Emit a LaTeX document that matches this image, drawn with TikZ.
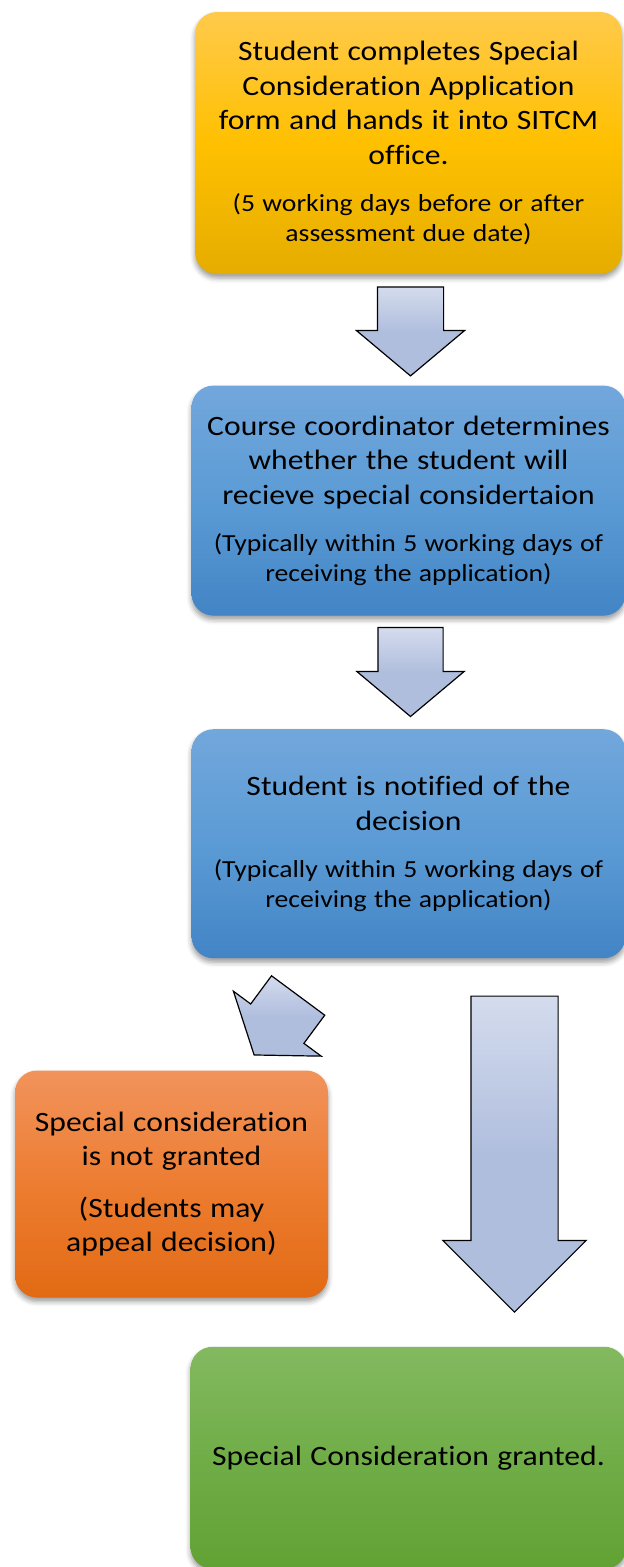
\documentclass[tikz,border=0pt]{standalone}
\usepackage{fontspec}
\setmainfont{Carlito}[FakeStretch=1.13,Ligatures=NoCommon]
\usetikzlibrary{positioning,shapes.arrows,shadows.blur}

\definecolor{goldtop}{RGB}{255,202,76}
\definecolor{goldmid}{RGB}{255,192,0}
\definecolor{goldbot}{RGB}{229,173,0}
\definecolor{bluetop}{RGB}{114,167,220}
\definecolor{bluemid}{RGB}{91,155,213}
\definecolor{bluebot}{RGB}{66,132,197}
\definecolor{orangetop}{RGB}{241,147,92}
\definecolor{orangemid}{RGB}{237,125,49}
\definecolor{orangebot}{RGB}{226,106,20}
\definecolor{greentop}{RGB}{131,185,96}
\definecolor{greenmid}{RGB}{112,173,71}
\definecolor{greenbot}{RGB}{98,162,52}
\definecolor{arrowblue}{RGB}{176,190,222}

\newcommand{\maintext}[1]{{\fontsize{28pt}{34.5pt}\selectfont\spaceskip=0.3em\relax #1\par}}
\newcommand{\subtext}[1]{\vspace{17pt}{\fontsize{24.5pt}{30pt}\selectfont\spaceskip=0.3em\relax #1\par}}

\begin{document}
\begin{tikzpicture}[x=1pt,y=1pt,node distance=113pt,semithick]
	\tikzstyle{box}=[rectangle,rounded corners=22pt,text width=420pt,align=center,inner sep=0pt,
		blur shadow={shadow xshift=0pt,shadow yshift=-4pt,shadow blur radius=5pt,shadow opacity=40}]
	\tikzstyle{fat}=[single arrow,draw=black,line width=1.2pt,top color=arrowblue!55!white,
		bottom color=arrowblue,middle color=arrowblue,single arrow head indent=0pt,
		inner xsep=0pt,anchor=tail]
	
	\useasboundingbox (0,0) rectangle (624,-1567);
	
	\node[box,top color=goldtop,bottom color=goldbot,middle color=goldmid,
		minimum width=427pt,minimum height=262pt] (A) at (408.5,-143)
		{\maintext{Student completes Special\\Consideration Application\\form and hands it into SITCM\\office.}
		 \subtext{(5 working days before or after\\assessment due date)}};
	\node[box,top color=bluetop,bottom color=bluebot,middle color=bluemid,
		minimum width=434pt,minimum height=230pt] (B) [below=111pt of A]
		{\maintext{Course coordinator determines\\whether the student will\\recieve special considertaion}
		 \subtext{(Typically within 5 working days of\\receiving the application)}};
	\node[box,top color=bluetop,bottom color=bluebot,middle color=bluemid,
		minimum width=434pt,minimum height=229pt] (C) [below=of B]
		{\maintext{Student is notified of the\\decision}
		 \subtext{(Typically within 5 working days of\\receiving the application)}};
	\node[box,top color=orangetop,bottom color=orangebot,middle color=orangemid,text width=300pt,
		minimum width=313pt,minimum height=227pt] (D) at (171.5,-1184)
		{\maintext{Special consideration\\is not granted}
		 \vspace{17pt}\maintext{(Students may\\appeal decision)}};
	\node[box,top color=greentop,bottom color=greenbot,middle color=greenmid,
		minimum width=436pt,minimum height=222pt] (E) [below=388pt of C]
		{\maintext{Special Consideration granted.}};
	
	\node[fat,rotate=-90,minimum height=89pt,inner ysep=32.5pt,
		single arrow head extend=21pt,single arrow tip angle=100] (AB) at ([xshift=2pt,yshift=-12pt]A.south) {};
	\node[fat,rotate=-90,minimum height=89pt,inner ysep=32pt,
		single arrow head extend=21pt,single arrow tip angle=100] (BC) at ([xshift=2pt,yshift=-11pt]B.south) {};
	\node[fat,rotate=233.5,minimum height=74pt,inner ysep=32.5pt,
		single arrow head extend=21.5pt,single arrow tip angle=109] (CD) at ([xshift=-110pt,yshift=-36.5pt]C.south) {};
	\node[fat,rotate=-90,minimum height=316pt,inner ysep=43pt,
		single arrow head extend=28pt,single arrow tip angle=90] (CE) at ([xshift=106pt,yshift=-37pt]C.south) {};
	
\end{tikzpicture}
\end{document}
